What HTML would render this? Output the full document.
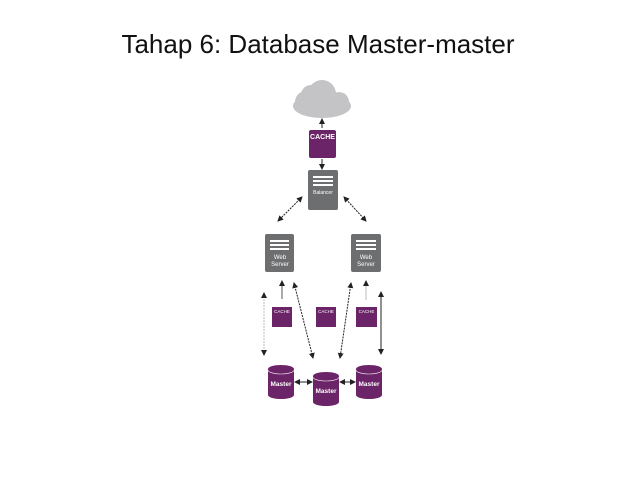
<!DOCTYPE html><html><head><style>body{margin:0;background:#fff;width:638px;height:479px;overflow:hidden;font-family:"Liberation Sans",sans-serif}</style></head><body>
<svg width="638" height="479" xmlns="http://www.w3.org/2000/svg" font-family="Liberation Sans, sans-serif">
<defs><marker id="a" markerWidth="6" markerHeight="6" refX="5" refY="3" orient="auto-start-reverse"><path d="M0,0L6,3L0,6z" fill="#222"/></marker></defs>
<text x="318" y="53" font-size="26" text-anchor="middle" fill="#111">Tahap 6: Database Master-master</text>
<g fill="#c4c4c6"><ellipse cx="322" cy="106" rx="29" ry="12"/><circle cx="322" cy="94" r="14"/><circle cx="306" cy="102" r="11"/><circle cx="339" cy="102" r="10"/><circle cx="311" cy="95" r="10"/></g>
<g stroke="#222" stroke-width="1" fill="none">
<line x1="322" y1="128" x2="322" y2="119" marker-end="url(#a)"/>
<line x1="322" y1="159" x2="322" y2="169" marker-end="url(#a)"/>
<line x1="302" y1="197" x2="278" y2="221" stroke-dasharray="2,1" marker-start="url(#a)" marker-end="url(#a)"/>
<line x1="344" y1="197" x2="366" y2="221" stroke-dasharray="2,1" marker-start="url(#a)" marker-end="url(#a)"/>
<line x1="264" y1="293" x2="264" y2="355" stroke="#bbb" stroke-dasharray="2,1" marker-start="url(#a)" marker-end="url(#a)"/>
<line x1="282" y1="299" x2="282" y2="281" stroke="#555" marker-end="url(#a)"/>
<line x1="294" y1="283" x2="313" y2="358" stroke-dasharray="2,1" marker-start="url(#a)" marker-end="url(#a)"/>
<line x1="351" y1="283" x2="340" y2="358" stroke-dasharray="2,1" marker-start="url(#a)" marker-end="url(#a)"/>
<line x1="366" y1="300" x2="366" y2="281" stroke="#bbb" marker-end="url(#a)"/>
<line x1="381" y1="292" x2="381" y2="354" marker-start="url(#a)" marker-end="url(#a)"/>
<line x1="295" y1="382" x2="312" y2="382" marker-start="url(#a)" marker-end="url(#a)"/>
<line x1="340" y1="382" x2="355" y2="382" marker-start="url(#a)" marker-end="url(#a)"/>
</g>
<rect x="309" y="130" width="27" height="28" rx="2" fill="#6b2467"/>
<text x="322.5" y="139" font-size="7" fill="#fff" text-anchor="middle" font-weight="bold">CACHE</text>
<rect x="308" y="170" width="30" height="40" rx="2" fill="#6d6e70"/>
<g fill="#fff"><rect x="313" y="176" width="20" height="2"/><rect x="313" y="180" width="20" height="2"/><rect x="313" y="184" width="20" height="2"/></g>
<text x="323" y="194" font-size="5" fill="#fff" text-anchor="middle">Balancer</text>
<g fill="#6d6e70"><rect x="265" y="234" width="29" height="38" rx="2"/><rect x="351" y="234" width="30" height="38" rx="2"/></g>
<g fill="#fff"><rect x="270" y="240" width="19" height="2"/><rect x="270" y="244" width="19" height="2"/><rect x="270" y="248" width="19" height="2"/><rect x="356" y="240" width="20" height="2"/><rect x="356" y="244" width="20" height="2"/><rect x="356" y="248" width="20" height="2"/></g>
<g font-size="6" fill="#fff" text-anchor="middle"><text x="280" y="259">Web</text><text x="280" y="266">Server</text><text x="366" y="259">Web</text><text x="366" y="266">Server</text></g>
<g fill="#6b2467"><rect x="272" y="307" width="20" height="20"/><rect x="316" y="307" width="20" height="20"/><rect x="356" y="307" width="21" height="20"/></g>
<g font-size="4.5" fill="#fff" text-anchor="middle"><text x="282" y="313">CACHE</text><text x="326" y="313">CACHE</text><text x="366.5" y="313">CACHE</text></g>
<g fill="#6b2467">
<rect x="268" y="369" width="26" height="26"/><ellipse cx="281" cy="369" rx="13" ry="4"/><ellipse cx="281" cy="395" rx="13" ry="4"/>
<rect x="313" y="376" width="26" height="26"/><ellipse cx="326" cy="376" rx="13" ry="4"/><ellipse cx="326" cy="402" rx="13" ry="4"/>
<rect x="356" y="369" width="26" height="26"/><ellipse cx="369" cy="369" rx="13" ry="4"/><ellipse cx="369" cy="395" rx="13" ry="4"/>
</g>
<g stroke="#fff" stroke-width="0.6" fill="none"><path d="M268,370 a13,4 0 0 0 26,0"/><path d="M313,377 a13,4 0 0 0 26,0"/><path d="M356,370 a13,4 0 0 0 26,0"/></g>
<g font-size="6.5" fill="#fff" text-anchor="middle" font-weight="bold"><text x="281" y="386">Master</text><text x="326" y="393">Master</text><text x="369" y="386">Master</text></g>
</svg></body></html>
